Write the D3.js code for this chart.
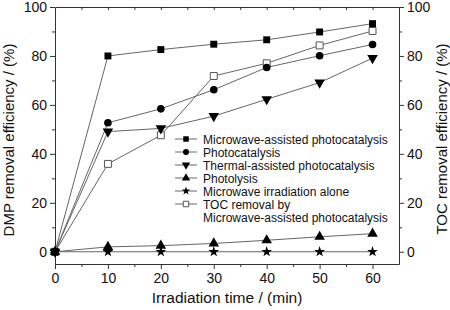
<!DOCTYPE html>
<html>
<head>
<meta charset="utf-8">
<script src="https://cdn.jsdelivr.net/npm/d3@7"></script>
<style>
  body { margin: 0; background: #fff; }
  text { font-family: "Liberation Sans", Arial, sans-serif; }
</style>
</head>
<body>
<div id="chart"></div>
<script>
// time points (min)
const times = [0, 10, 20, 30, 40, 50, 60];

// removal efficiency values (%)
const microwavePhoto = [0, 80, 82.6, 84.8, 86.6, 89.8, 93.2];
const photocatalysis = [0, 52.7, 58.4, 66.2, 75.3, 80.1, 84.7];
const thermalPhoto   = [0, 49.1, 50.4, 55.4, 62.3, 69.1, 79.1];
const photolysis     = [0, 2.0, 2.5, 3.4, 4.7, 6.1, 7.4];
const microwaveAlone = [0, 0, 0, 0, 0, 0, 0];
const tocRemoval     = [0, 35.9, 47.6, 71.8, 77.0, 84.3, 90.2];

const yTicks = [0, 20, 40, 60, 80, 100];
const xTicks = [0, 10, 20, 30, 40, 50, 60];

const series = [
    { name: "Microwave-assisted photocatalysis", values: microwavePhoto, sym: d3.symbolSquare, open: false },
    { name: "Photocatalysis", values: photocatalysis, sym: d3.symbolCircle, open: false },
    { name: "Thermal-assisted photocatalysis", values: thermalPhoto, sym: "down", open: false },
    { name: "Photolysis", values: photolysis, sym: d3.symbolTriangle, open: false },
    { name: "Microwave irradiation alone", values: microwaveAlone, sym: d3.symbolStar, open: false },
    { name: ["TOC removal by", "Microwave-assisted photocatalysis"], values: tocRemoval, sym: d3.symbolSquare, open: true }
];

const width = 450, height = 310;
const margin = { top: 7, right: 51, bottom: 46, left: 55 };

let svg = d3.select("#chart")
    .append("svg")
    .attr("width", width)
    .attr("height", height);

let x = d3.scaleLinear()
    .domain([0, 65])
    .range([margin.left, width - margin.right]);

let y = d3.scaleLinear()
    .domain([-5, 100])
    .range([height - margin.bottom, margin.top]);

// symbol path for each series
function symPath(s, size) {
    if (s.sym === "down") {
        return d3.symbol().type(d3.symbolTriangle).size(size)();
    }
    if (s.sym === d3.symbolStar) return d3.symbol().type(d3.symbolStar).size(size * 0.75)();
    if (s.sym === d3.symbolCircle) return d3.symbol().type(d3.symbolCircle).size(size * 0.95)();
    return d3.symbol().type(s.sym).size(size)();
}

// axes
function styleAxis(g) {
    g.select(".domain").attr("stroke", "#333");
    g.selectAll(".tick line").attr("stroke", "#333");
    g.selectAll(".tick text")
        .attr("font-size", 14)
        .attr("fill", "#111");
}

// bottom: minor then major
svg.append("g")
    .attr("transform", `translate(0,${height - margin.bottom})`)
    .call(d3.axisBottom(x).tickValues(d3.range(5, 65, 10)).tickSize(3).tickFormat("").tickSizeOuter(0))
    .call(g => g.select(".domain").remove())
    .call(styleAxis);
svg.append("g")
    .attr("transform", `translate(0,${height - margin.bottom})`)
    .call(d3.axisBottom(x).tickValues(xTicks).tickSize(5).tickPadding(4).tickSizeOuter(0))
    .call(styleAxis);

// top: inward ticks
svg.append("g")
    .attr("transform", `translate(0,${margin.top})`)
    .call(d3.axisTop(x).tickValues(d3.range(5, 65, 5)).tickSize(-3).tickFormat("").tickSizeOuter(0))
    .call(styleAxis);

// left
svg.append("g")
    .attr("transform", `translate(${margin.left},0)`)
    .call(d3.axisLeft(y).tickValues(d3.range(10, 100, 20)).tickSize(3).tickFormat("").tickSizeOuter(0))
    .call(g => g.select(".domain").remove())
    .call(styleAxis);
svg.append("g")
    .attr("transform", `translate(${margin.left},0)`)
    .call(d3.axisLeft(y).tickValues(yTicks).tickSize(5).tickPadding(3).tickSizeOuter(0))
    .call(styleAxis);

// right
svg.append("g")
    .attr("transform", `translate(${width - margin.right},0)`)
    .call(d3.axisRight(y).tickValues(d3.range(10, 100, 20)).tickSize(3).tickFormat("").tickSizeOuter(0))
    .call(g => g.select(".domain").remove())
    .call(styleAxis);
svg.append("g")
    .attr("transform", `translate(${width - margin.right},0)`)
    .call(d3.axisRight(y).tickValues(yTicks).tickSize(5).tickPadding(3).tickSizeOuter(0))
    .call(styleAxis);

// axis titles
svg.append("text")
    .attr("x", (margin.left + width - margin.right) / 2)
    .attr("y", 303)
    .attr("text-anchor", "middle")
    .attr("font-size", 15.5)
    .attr("fill", "#111")
    .text("Irradiation time / (min)");

svg.append("text")
    .attr("transform", `translate(14,140) rotate(-90)`)
    .attr("text-anchor", "middle")
    .attr("font-size", 15)
    .attr("fill", "#111")
    .text("DMP removal efficiency / (%)");

svg.append("text")
    .attr("transform", `translate(447,139) rotate(-90)`)
    .attr("text-anchor", "middle")
    .attr("font-size", 15)
    .attr("fill", "#111")
    .text("TOC removal efficiency / (%)");

// lines
let line = d3.line()
    .x((d, i) => x(times[i]))
    .y(d => y(d));

svg.selectAll(".series-line")
    .data(series)
    .join("path")
    .attr("class", "series-line")
    .attr("fill", "none")
    .attr("stroke", "#666")
    .attr("stroke-width", 1)
    .attr("d", d => line(d.values));

// markers (drawn last-to-first so the filled squares sit on top)
series.slice().reverse().forEach(s => {
    svg.append("g")
        .selectAll("path")
        .data(s.values)
        .join("path")
        .attr("d", symPath(s, 48))
        .attr("transform", (d, i) => `translate(${x(times[i])},${y(d)})` + (s.sym === "down" ? " rotate(180)" : ""))
        .attr("fill", s.open ? "#fff" : "#000")
        .attr("stroke", s.open ? "#555" : "none")
        .attr("stroke-width", 1);
});

// legend
let legend = svg.append("g");
let rowY = [139, 152, 165, 178, 191, 204];
series.forEach((s, i) => {
    let ly = rowY[i];
    legend.append("line")
        .attr("x1", 175).attr("x2", 197)
        .attr("y1", ly).attr("y2", ly)
        .attr("stroke", "#666");
    legend.append("path")
        .attr("d", symPath(s, 30))
        .attr("transform", `translate(186,${ly})` + (s.sym === "down" ? " rotate(180)" : ""))
        .attr("fill", s.open ? "#fff" : "#000")
        .attr("stroke", s.open ? "#555" : "none");
    let names = Array.isArray(s.name) ? s.name : [s.name];
    names.forEach((n, j) => {
        legend.append("text")
            .attr("x", 203)
            .attr("y", ly + 4.5 + j * 13)
            .attr("font-size", 12)
            .attr("fill", "#111")
            .text(n);
    });
});
</script>
</body>
</html>
